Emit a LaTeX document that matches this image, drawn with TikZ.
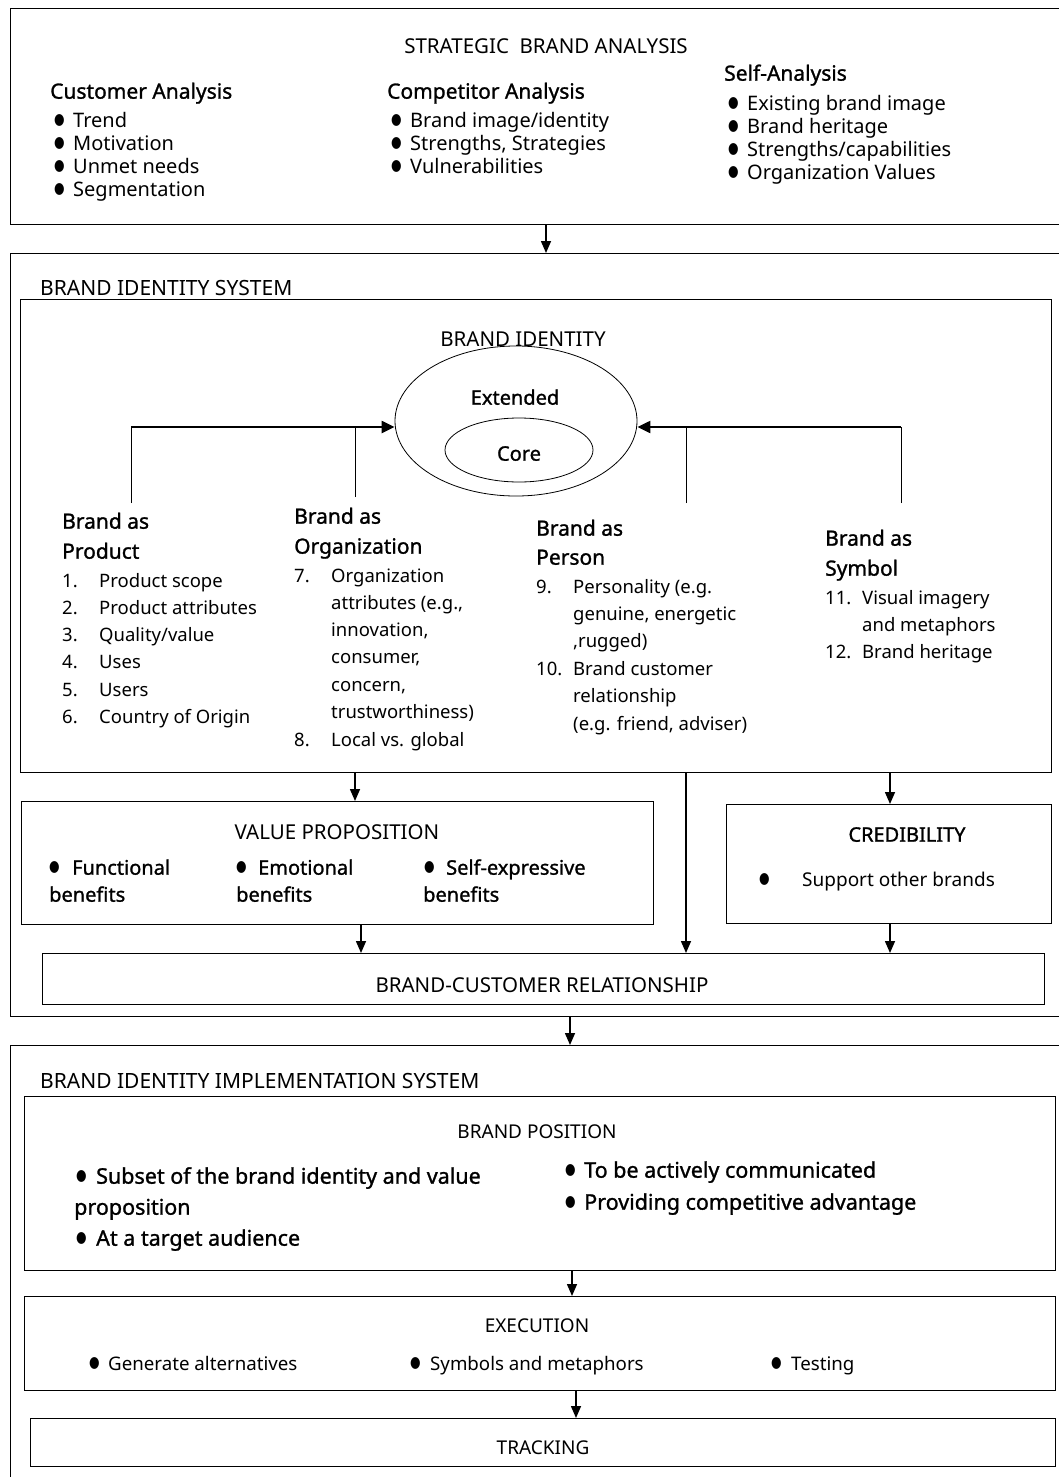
\documentclass[tikz,border=0pt]{standalone}
\usepackage{fontspec}
\setmainfont{Noto Sans}
\newfontfamily\medfont[FakeBold=1.2]{Noto Sans}
\newfontfamily\symfont{DejaVu Sans}
\usetikzlibrary{arrows.meta,shapes.geometric}
\newcommand\fsz[1]{\fontsize{#1}{#1}\selectfont}
% bullet mark followed by a fixed gap
\newcommand\bul[1][18pt]{\makebox[#1][l]{\raisebox{2.8pt}{\symfont\fsz{15.5}\scalebox{0.78}[1]{●}}}}
% list number in a fixed-width slot
\newcommand\numlbl[1]{\makebox[37pt][l]{#1}}

\begin{document}
\begin{tikzpicture}[x=1pt,y=-1pt,
  box/.style={draw, line width=1pt, anchor=north west, inner sep=0pt},
  t/.style={anchor=mid west, inner sep=0pt, yshift=-5pt},
  c/.style={anchor=mid, inner sep=0pt, yshift=-5pt},
  body/.style={t, font=\fsz{20}},
  head/.style={t, font=\medfont\fsz{21}},
  item/.style={t, font=\fsz{18.5}},
  sect/.style={t, font=\fsz{21}},
  arr/.style={-{Triangle[length=12pt,width=10pt]}, line width=1.5pt},
  harr/.style={-{Triangle[length=13pt,width=12pt]}, line width=2.2pt},
  stem/.style={line width=1pt}]
\useasboundingbox (0,0) rectangle (1058,1477);
\fill[white] (0,0) rectangle (1058,1477);

% ---------- frames ----------
\node[box, minimum width=1055pt, minimum height=216pt] (sba) at (10,8) {};
\node[box, minimum width=1055pt, minimum height=763pt] (bis) at (10,253) {};
\node[box, minimum width=1031pt, minimum height=473pt] (bisin) at (20,299) {};
\node[box, minimum width=632pt, minimum height=123pt] (vp) at (21,801) {};
\node[box, minimum width=325pt, minimum height=119pt] (cred) at (726,804) {};
\node[box, minimum width=1002pt, minimum height=51pt] (bcr) at (42,953) {};
\node[box, minimum width=1055pt, minimum height=440pt] (bii) at (10,1045) {};
\node[box, minimum width=1031pt, minimum height=174pt] (pos) at (24,1096) {};
\node[box, minimum width=1031pt, minimum height=94pt] (exe) at (24,1296) {};
\node[box, minimum width=1025pt, minimum height=48pt] (trk) at (30,1418) {};

% ---------- strategic brand analysis ----------
\node[c, font=\fsz{20.5}] (sbaT) at (546,46) {STRATEGIC\ \ BRAND ANALYSIS};
\node[head] (custH) at (50,91) {Customer Analysis};
\node[body] (cust1) at (54,120) {\bul[19pt]Trend};
\node[body] (cust2) at (54,143) {\bul[19pt]Motivation};
\node[body] (cust3) at (54,166) {\bul[19pt]Unmet needs};
\node[body] (cust4) at (54,189) {\bul[19pt]Segmentation};
\node[head] (compH) at (387,91) {Competitor Analysis};
\node[body] (comp1) at (391,120) {\bul[19pt]Brand image/identity};
\node[body] (comp2) at (391,143) {\bul[19pt]Strengths, Strategies};
\node[body] (comp3) at (391,166) {\bul[19pt]Vulnerabilities};
\node[head] (selfH) at (724,73) {Self-Analysis};
\node[body] (self1) at (728,103) {\bul[19pt]Existing brand image};
\node[body] (self2) at (728,126) {\bul[19pt]Brand heritage};
\node[body] (self3) at (728,149) {\bul[19pt]Strengths/capabilities};
\node[body] (self4) at (728,172) {\bul[19pt]Organization Values};

% ---------- brand identity system ----------
\node[sect] (bisT) at (40,288) {BRAND IDENTITY SYSTEM};
\node[c, font=\fsz{20.5}] (biT) at (523,339) {BRAND IDENTITY};
\node[draw, ellipse, line width=0.8pt, inner sep=0pt, minimum width=242pt, minimum height=150pt] (ext) at (516,421) {};
\node[draw, ellipse, line width=0.8pt, inner sep=0pt, minimum width=148pt, minimum height=64pt] (core) at (519,450) {};
\node[c, font=\medfont\fsz{20}] (extT) at (515,397) {Extended};
\node[c, font=\medfont\fsz{20}] (coreT) at (519,453) {Core};

% feeder lines into the identity ellipse
\coordinate (hy) at (0,427);
\coordinate (f1) at (131,503);
\coordinate (f2) at (355,497);
\coordinate (f3) at (686,503);
\coordinate (f4) at (901,503);
\draw[stem] (f1) -- (f1 |- hy);
\draw[stem] (f2) -- (f2 |- hy);
\draw[stem] (f3) -- (f3 |- hy);
\draw[stem] (f4) -- (f4 |- hy);
\draw[harr] (f1 |- hy) -- (ext.west |- hy);
\draw[harr] (f4 |- hy) -- (ext.east |- hy);

% brand as product
\node[head] (prodH1) at (62,521) {Brand as};
\node[head] (prodH2) at (62,551) {Product};
\node[item] (prod1) at (62,580) {\numlbl{1.}Product scope};
\node[item] (prod2) at (62,607) {\numlbl{2.}Product attributes};
\node[item] (prod3) at (62,634) {\numlbl{3.}Quality/value};
\node[item] (prod4) at (62,661) {\numlbl{4.}Uses};
\node[item] (prod5) at (62,689) {\numlbl{5.}Users};
\node[item] (prod6) at (62,716) {\numlbl{6.}Country of Origin};

% brand as organization
\node[head] (orgH1) at (294,516) {Brand as};
\node[head] (orgH2) at (294,546) {Organization};
\node[item] (org1) at (294,575) {\numlbl{7.}Organization};
\node[item] (org2) at (331,602) {attributes (e.g.,};
\node[item] (org3) at (331,629) {innovation,};
\node[item] (org4) at (331,656) {consumer,};
\node[item] (org5) at (331,684) {concern,};
\node[item] (org6) at (331,711) {trustworthiness)};
\node[item] (org7) at (294,739) {\numlbl{8.}Local vs. global};

% brand as person
\node[head] (perH1) at (536,528) {Brand as};
\node[head] (perH2) at (536,557) {Person};
\node[item] (per1) at (536,586) {\numlbl{9.}Personality (e.g.};
\node[item] (per2) at (573,613) {genuine, energetic};
\node[item] (per3) at (573,640) {,rugged)};
\node[item] (per4) at (536,668) {\numlbl{10.}Brand customer};
\node[item] (per5) at (573,695) {relationship};
\node[item] (per6) at (573,723) {(e.g. friend, adviser)};

% brand as symbol
\node[head] (symH1) at (825,538) {Brand as};
\node[head] (symH2) at (825,568) {Symbol};
\node[item] (sym1) at (825,597) {\numlbl{11.}Visual imagery};
\node[item] (sym2) at (862,624) {and metaphors};
\node[item] (sym3) at (825,651) {\numlbl{12.}Brand heritage};

% value proposition
\node[c, font=\fsz{20.5}] (vpT) at (337,832) {VALUE PROPOSITION};
\node[t, font=\medfont\fsz{20}] (vp1) at (49,867) {\bul[23pt]Functional};
\node[t, font=\medfont\fsz{20}] (vp1b) at (49,894) {benefits};
\node[t, font=\medfont\fsz{20}] (vp2) at (236,867) {\bul[22pt]Emotional};
\node[t, font=\medfont\fsz{20}] (vp2b) at (236,894) {benefits};
\node[t, font=\medfont\fsz{20}] (vp3) at (424,867) {\bul[22pt]Self-expressive};
\node[t, font=\medfont\fsz{20}] (vp3b) at (423,894) {benefits};

% credibility
\node[c, font=\medfont\fsz{20}] (credT) at (907,834) {CREDIBILITY};
\node[t, font=\fsz{19}] (credB) at (759,879) {\bul[4pt]};
\node[t, font=\fsz{19}] (cred1) at (802,879) {Support other brands};

% brand-customer relationship
\node[c, font=\fsz{20.5}] (bcrT) at (542,985) {BRAND-CUSTOMER RELATIONSHIP};

% arrows of the identity system
\coordinate (xa) at (355,0);
\coordinate (xb) at (361,0);
\coordinate (xc) at (686,0);
\coordinate (xd) at (890,0);
\draw[arr] (bisin.south -| xa) -- (vp.north -| xa);
\draw[arr] (bisin.south -| xd) -- (cred.north -| xd);
\draw[arr] (bisin.south -| xc) -- (bcr.north -| xc);
\draw[arr] (vp.south -| xb) -- (bcr.north -| xb);
\draw[arr] (cred.south -| xd) -- (bcr.north -| xd);
\draw[arr] (sba.south -| sbaT) -- (bis.north -| sbaT);

% ---------- brand identity implementation system ----------
\node[sect] (biiT) at (40,1081) {BRAND IDENTITY IMPLEMENTATION SYSTEM};
\coordinate (xe) at (570,0);
\draw[arr] (bis.south -| xe) -- (bii.north -| xe);

\node[c, font=\fsz{19}] (posT) at (537,1131) {BRAND POSITION};
\node[t, font=\medfont\fsz{21.5}] (pos1) at (76,1176) {\bul[20pt]Subset of the brand identity and value};
\node[t, font=\medfont\fsz{21.5}] (pos1b) at (74,1207) {proposition};
\node[t, font=\medfont\fsz{21.5}] (pos2) at (76,1238) {\bul[20pt]At a target audience};
\node[t, font=\medfont\fsz{21.5}] (pos3) at (565,1170) {\bul[19pt]To be actively communicated};
\node[t, font=\medfont\fsz{21.5}] (pos4) at (565,1202) {\bul[19pt]Providing competitive advantage};

\node[c, font=\fsz{19}] (exeT) at (537,1325) {EXECUTION};
\node[t, font=\fsz{18.7}] (exe1) at (89,1363) {\bul[19pt]Generate alternatives};
\node[t, font=\fsz{18.7}] (exe2) at (410,1363) {\bul[20pt]Symbols and metaphors};
\node[t, font=\fsz{18.7}] (exe3) at (771,1363) {\bul[20pt]Testing};

\node[c, font=\fsz{19}] (trkT) at (543,1447) {TRACKING};

\coordinate (xf) at (572,0);
\coordinate (xg) at (576,0);
\draw[arr] (pos.south -| xf) -- (exe.north -| xf);
\draw[arr] (exe.south -| xg) -- (trk.north -| xg);
\end{tikzpicture}
\end{document}
